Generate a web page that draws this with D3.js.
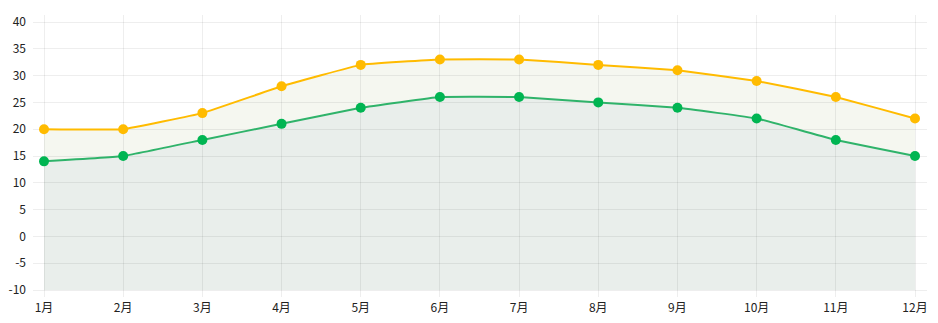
<!DOCTYPE html>
<html>
<head>
<meta charset="utf-8">
<script src="https://cdn.jsdelivr.net/npm/d3@7/dist/d3.min.js"></script>
<style>
  html, body { margin: 0; padding: 0; background: #fff; }
  svg { display: block; }
  text { font-family: "Noto Sans CJK SC", "Noto Sans", sans-serif; font-size: 12px; fill: #222; }
</style>
</head>
<body>
<svg id="chart" width="938" height="323"></svg>
<script>
// Monthly temperature: highs and lows
const months = ["1月","2月","3月","4月","5月","6月","7月","8月","9月","10月","11月","12月"];
const highs = [20, 20, 23, 28, 32, 33, 33, 32, 31, 29, 26, 22];
const lows  = [14, 15, 18, 21, 24, 26, 26, 25, 24, 22, 18, 15];
const yTicks = [-10, -5, 0, 5, 10, 15, 20, 25, 30, 35, 40];

const svg = d3.select("#chart");
const plot = { left: 44, right: 915, top: 22, bottom: 290 };

const x = d3.scalePoint().domain(months).range([plot.left, plot.right]);
const y = d3.scaleLinear().domain([-10, 40]).range([plot.bottom, plot.top]);

const curve = d3.curveCardinal.tension(0.75);
const series = [
  { values: highs, line: "#ffbb00", dot: "#ffbb00", fill: "#f5f7f0" },
  { values: lows,  line: "#2fb36a", dot: "#00b552", fill: "#e9eeeb" }
];

// areas down to the axis floor
series.forEach(s => {
  const area = d3.area().curve(curve)
    .x((d, i) => x(months[i])).y0(y(-10)).y1(d => y(d));
  svg.append("path").datum(s.values).attr("d", area).attr("fill", s.fill);
});

// grid
const grid = svg.append("g");
grid.selectAll("line.h").data(yTicks).join("line")
  .attr("x1", 33).attr("x2", 927)
  .attr("y1", d => y(d)).attr("y2", d => y(d))
  .attr("stroke", "rgba(0,0,0,0.065)").attr("stroke-width", 1).attr("shape-rendering", "crispEdges");
grid.selectAll("line.v").data(months).join("line")
  .attr("x1", d => x(d)).attr("x2", d => x(d))
  .attr("y1", 15).attr("y2", 297)
  .attr("stroke", "rgba(0,0,0,0.065)").attr("stroke-width", 1).attr("shape-rendering", "crispEdges");

// y labels
svg.append("g").selectAll("text").data(yTicks).join("text")
  .attr("x", 26).attr("y", d => y(d)).attr("dy", "0.35em")
  .attr("text-anchor", "end").text(d => d);

// x labels
svg.append("g").selectAll("text").data(months).join("text")
  .attr("x", d => x(d)).attr("y", 312)
  .attr("text-anchor", "middle").text(d => d);

series.forEach(s => {
  const line = d3.line().curve(curve)
    .x((d, i) => x(months[i])).y(d => y(d));
  svg.append("path").datum(s.values).attr("d", line)
    .attr("fill", "none").attr("stroke", s.line).attr("stroke-width", 2);
  svg.append("g").selectAll("circle").data(s.values).join("circle")
    .attr("cx", (d, i) => x(months[i])).attr("cy", d => y(d))
    .attr("r", 5).attr("fill", s.dot);
});
</script>
</body>
</html>
